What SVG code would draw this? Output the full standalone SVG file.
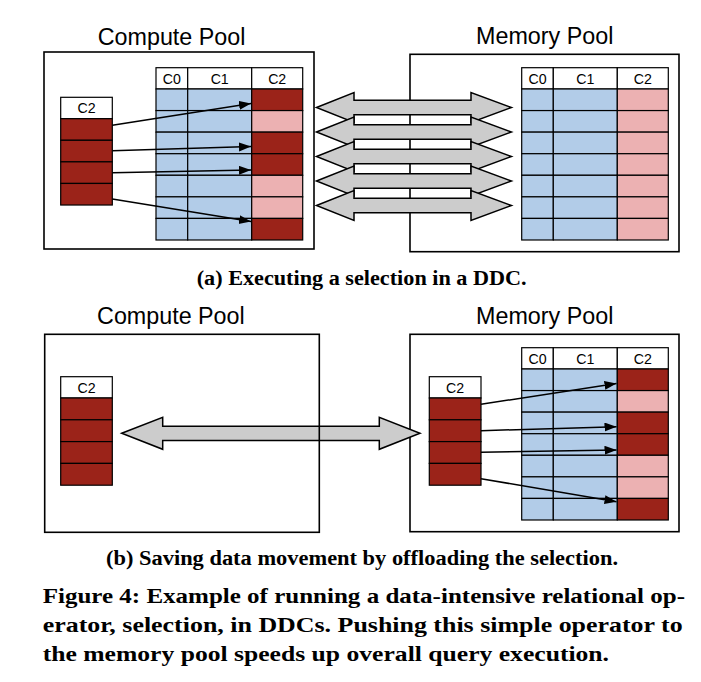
<svg xmlns="http://www.w3.org/2000/svg" width="701" height="682" viewBox="0 0 701 682">
<style>
.box{fill:none;stroke:#000;stroke-width:1.6}
.hdr{fill:#fff;stroke:#000;stroke-width:1.2}
.blue{fill:#b2cce8;stroke:#000;stroke-width:1.2}
.dark{fill:#9b2319;stroke:#000;stroke-width:1.2}
.pink{fill:#ecb1b2;stroke:#000;stroke-width:1.2}
.pool{font-family:"Liberation Sans",Arial,sans-serif;font-size:23.3px;text-anchor:middle;fill:#000}
.ht{font-family:"Liberation Sans",Arial,sans-serif;font-size:14.2px;text-anchor:middle;fill:#000}
.cap{font-family:"Liberation Serif","Times New Roman",serif;font-weight:bold;font-size:20.5px;fill:#000}
.fig{font-family:"Liberation Serif","Times New Roman",serif;font-weight:bold;font-size:22px;fill:#000}
.link{stroke:#000;stroke-width:1.5;fill:none;marker-end:url(#ah)}
.dbl{fill:#cccccc;stroke:#000;stroke-width:1.5;stroke-linejoin:miter}
</style>
<defs>
<marker id="ah" markerUnits="userSpaceOnUse" markerWidth="13" markerHeight="10" refX="12" refY="4.5" orient="auto"><path d="M0,0 L12,4.5 L0,9 z" fill="#000"/></marker>
</defs>
<rect width="701" height="682" fill="#fff"/>

<!-- (a) -->
<g id="compute-pool-a">
<text class="pool" x="171.6" y="45">Compute Pool</text>
<rect class="box" x="44" y="52" width="270" height="197"/>
<g id="compute-a-filtered">
<rect class="hdr" x="60.7" y="97.3" width="51.6" height="21.4"/>
<text class="ht" x="86.5" y="113.3">C2</text>
<rect class="dark" x="60.7" y="118.7" width="51.6" height="21.58"/>
<rect class="dark" x="60.7" y="140.28" width="51.6" height="21.58"/>
<rect class="dark" x="60.7" y="161.86" width="51.6" height="21.58"/>
<rect class="dark" x="60.7" y="183.44" width="51.6" height="21.58"/>
</g>
<g id="compute-a-table">
<rect class="hdr" x="156" y="67.7" width="31.7" height="21.3"/>
<rect class="hdr" x="187.7" y="67.7" width="64" height="21.3"/>
<rect class="hdr" x="251.7" y="67.7" width="51" height="21.3"/>
<text class="ht" x="171.85" y="84">C0</text>
<text class="ht" x="219.7" y="84">C1</text>
<text class="ht" x="277.2" y="84">C2</text>
<rect class="blue" x="156" y="89" width="31.7" height="21.57"/><rect class="blue" x="187.7" y="89" width="64" height="21.57"/><rect class="dark" x="251.7" y="89" width="51" height="21.57"/>
<rect class="blue" x="156" y="110.57" width="31.7" height="21.57"/><rect class="blue" x="187.7" y="110.57" width="64" height="21.57"/><rect class="pink" x="251.7" y="110.57" width="51" height="21.57"/>
<rect class="blue" x="156" y="132.14" width="31.7" height="21.57"/><rect class="blue" x="187.7" y="132.14" width="64" height="21.57"/><rect class="dark" x="251.7" y="132.14" width="51" height="21.57"/>
<rect class="blue" x="156" y="153.71" width="31.7" height="21.57"/><rect class="blue" x="187.7" y="153.71" width="64" height="21.57"/><rect class="dark" x="251.7" y="153.71" width="51" height="21.57"/>
<rect class="blue" x="156" y="175.28" width="31.7" height="21.57"/><rect class="blue" x="187.7" y="175.28" width="64" height="21.57"/><rect class="pink" x="251.7" y="175.28" width="51" height="21.57"/>
<rect class="blue" x="156" y="196.85" width="31.7" height="21.57"/><rect class="blue" x="187.7" y="196.85" width="64" height="21.57"/><rect class="pink" x="251.7" y="196.85" width="51" height="21.57"/>
<rect class="blue" x="156" y="218.42" width="31.7" height="21.57"/><rect class="blue" x="187.7" y="218.42" width="64" height="21.57"/><rect class="dark" x="251.7" y="218.42" width="51" height="21.57"/>
</g>
</g>

<g id="memory-pool-a">
<text class="pool" x="544.7" y="44">Memory Pool</text>
<rect class="box" x="410" y="54.3" width="269" height="197.4"/>
<g id="memory-a-table">
<rect class="hdr" x="521.7" y="67.7" width="31.6" height="21.3"/>
<rect class="hdr" x="553.3" y="67.7" width="64" height="21.3"/>
<rect class="hdr" x="617.3" y="67.7" width="51" height="21.3"/>
<text class="ht" x="537.5" y="84">C0</text>
<text class="ht" x="585.3" y="84">C1</text>
<text class="ht" x="642.8" y="84">C2</text>
<rect class="blue" x="521.7" y="89" width="31.6" height="21.57"/><rect class="blue" x="553.3" y="89" width="64" height="21.57"/><rect class="pink" x="617.3" y="89" width="51" height="21.57"/>
<rect class="blue" x="521.7" y="110.57" width="31.6" height="21.57"/><rect class="blue" x="553.3" y="110.57" width="64" height="21.57"/><rect class="pink" x="617.3" y="110.57" width="51" height="21.57"/>
<rect class="blue" x="521.7" y="132.14" width="31.6" height="21.57"/><rect class="blue" x="553.3" y="132.14" width="64" height="21.57"/><rect class="pink" x="617.3" y="132.14" width="51" height="21.57"/>
<rect class="blue" x="521.7" y="153.71" width="31.6" height="21.57"/><rect class="blue" x="553.3" y="153.71" width="64" height="21.57"/><rect class="pink" x="617.3" y="153.71" width="51" height="21.57"/>
<rect class="blue" x="521.7" y="175.28" width="31.6" height="21.57"/><rect class="blue" x="553.3" y="175.28" width="64" height="21.57"/><rect class="pink" x="617.3" y="175.28" width="51" height="21.57"/>
<rect class="blue" x="521.7" y="196.85" width="31.6" height="21.57"/><rect class="blue" x="553.3" y="196.85" width="64" height="21.57"/><rect class="pink" x="617.3" y="196.85" width="51" height="21.57"/>
<rect class="blue" x="521.7" y="218.42" width="31.6" height="21.57"/><rect class="blue" x="553.3" y="218.42" width="64" height="21.57"/><rect class="pink" x="617.3" y="218.42" width="51" height="21.57"/>
</g>
</g>

<!-- (b) -->
<g id="memory-pool-b">
<text class="pool" x="544.7" y="324">Memory Pool</text>
<rect class="box" x="410" y="334.3" width="269" height="197.4"/>
<g id="memory-b-filtered">
<rect class="hdr" x="429.3" y="376.7" width="51.7" height="21.3"/>
<text class="ht" x="455.15" y="392.7">C2</text>
<rect class="dark" x="429.3" y="398" width="51.7" height="21.8"/>
<rect class="dark" x="429.3" y="419.8" width="51.7" height="21.8"/>
<rect class="dark" x="429.3" y="441.6" width="51.7" height="21.8"/>
<rect class="dark" x="429.3" y="463.4" width="51.7" height="21.8"/>
</g>
<g id="memory-b-table">
<rect class="hdr" x="521.7" y="347.7" width="31.6" height="21.3"/>
<rect class="hdr" x="553.3" y="347.7" width="64" height="21.3"/>
<rect class="hdr" x="617.3" y="347.7" width="51" height="21.3"/>
<text class="ht" x="537.5" y="364">C0</text>
<text class="ht" x="585.3" y="364">C1</text>
<text class="ht" x="642.8" y="364">C2</text>
<rect class="blue" x="521.7" y="369" width="31.6" height="21.57"/><rect class="blue" x="553.3" y="369" width="64" height="21.57"/><rect class="dark" x="617.3" y="369" width="51" height="21.57"/>
<rect class="blue" x="521.7" y="390.57" width="31.6" height="21.57"/><rect class="blue" x="553.3" y="390.57" width="64" height="21.57"/><rect class="pink" x="617.3" y="390.57" width="51" height="21.57"/>
<rect class="blue" x="521.7" y="412.14" width="31.6" height="21.57"/><rect class="blue" x="553.3" y="412.14" width="64" height="21.57"/><rect class="dark" x="617.3" y="412.14" width="51" height="21.57"/>
<rect class="blue" x="521.7" y="433.71" width="31.6" height="21.57"/><rect class="blue" x="553.3" y="433.71" width="64" height="21.57"/><rect class="dark" x="617.3" y="433.71" width="51" height="21.57"/>
<rect class="blue" x="521.7" y="455.28" width="31.6" height="21.57"/><rect class="blue" x="553.3" y="455.28" width="64" height="21.57"/><rect class="pink" x="617.3" y="455.28" width="51" height="21.57"/>
<rect class="blue" x="521.7" y="476.85" width="31.6" height="21.57"/><rect class="blue" x="553.3" y="476.85" width="64" height="21.57"/><rect class="pink" x="617.3" y="476.85" width="51" height="21.57"/>
<rect class="blue" x="521.7" y="498.42" width="31.6" height="21.57"/><rect class="blue" x="553.3" y="498.42" width="64" height="21.57"/><rect class="dark" x="617.3" y="498.42" width="51" height="21.57"/>
</g>
</g>

<g id="connectors">
<path class="dbl" d="M316.5,107.5 L354,92.5 L354,100.3 L471,100.3 L471,92.5 L511.5,107.5 L471,122.5 L471,114.7 L354,114.7 L354,122.5 Z"/>
<path class="dbl" d="M316.5,132 L354,117 L354,124.8 L471,124.8 L471,117 L511.5,132 L471,147 L471,139.2 L354,139.2 L354,147 Z"/>
<path class="dbl" d="M316.5,156.5 L354,141.5 L354,149.3 L471,149.3 L471,141.5 L511.5,156.5 L471,171.5 L471,163.7 L354,163.7 L354,171.5 Z"/>
<path class="dbl" d="M316.5,181 L354,166 L354,173.8 L471,173.8 L471,166 L511.5,181 L471,196 L471,188.2 L354,188.2 L354,196 Z"/>
<path class="dbl" d="M316.5,205.5 L354,190.5 L354,198.3 L471,198.3 L471,190.5 L511.5,205.5 L471,220.5 L471,212.7 L354,212.7 L354,220.5 Z"/>
<path class="dbl" d="M121.7,433.3 L162.7,417.3 L162.7,426.2 L379.3,426.2 L379.3,417.3 L420,433.3 L379.3,449.3 L379.3,440.4 L162.7,440.4 L162.7,449.3 Z"/>
<path class="link" d="M112.3,125.3 L251,103.5"/>
<path class="link" d="M112.3,150.7 L251,146.6"/>
<path class="link" d="M112.3,172.7 L251,170.1"/>
<path class="link" d="M112.3,199 L251,221.6"/>
<path class="link" d="M481,404.3 L616.5,383.5"/>
<path class="link" d="M481,430.7 L616.5,426.7"/>
<path class="link" d="M481,452.3 L616.5,450"/>
<path class="link" d="M481,478.7 L616.5,501.7"/>
</g>

<g id="compute-pool-b">
<text class="pool" x="170.9" y="324">Compute Pool</text>
<rect class="box" x="44.7" y="334.3" width="274.6" height="198"/>
<g id="compute-b-filtered">
<rect class="hdr" x="60.7" y="376.7" width="51.6" height="21.3"/>
<text class="ht" x="86.5" y="392.7">C2</text>
<rect class="dark" x="60.7" y="398" width="51.6" height="21.8"/>
<rect class="dark" x="60.7" y="419.8" width="51.6" height="21.8"/>
<rect class="dark" x="60.7" y="441.6" width="51.6" height="21.8"/>
<rect class="dark" x="60.7" y="463.4" width="51.6" height="21.8"/>
</g>
</g>

<g id="captions">
<text class="cap" x="196.7" y="285" textLength="330" lengthAdjust="spacingAndGlyphs">(a) Executing a selection in a DDC.</text>
<text class="cap" x="106" y="565" textLength="512" lengthAdjust="spacingAndGlyphs">(b) Saving data movement by offloading the selection.</text>
<text class="fig" x="42.7" y="603.3" textLength="642.3" lengthAdjust="spacingAndGlyphs">Figure 4: Example of running a data-intensive relational op-</text>
<text class="fig" x="42.7" y="632" textLength="640" lengthAdjust="spacingAndGlyphs">erator, selection, in DDCs. Pushing this simple operator to</text>
<text class="fig" x="42.7" y="660.5" textLength="566.3" lengthAdjust="spacingAndGlyphs">the memory pool speeds up overall query execution.</text>
</g>
</svg>
